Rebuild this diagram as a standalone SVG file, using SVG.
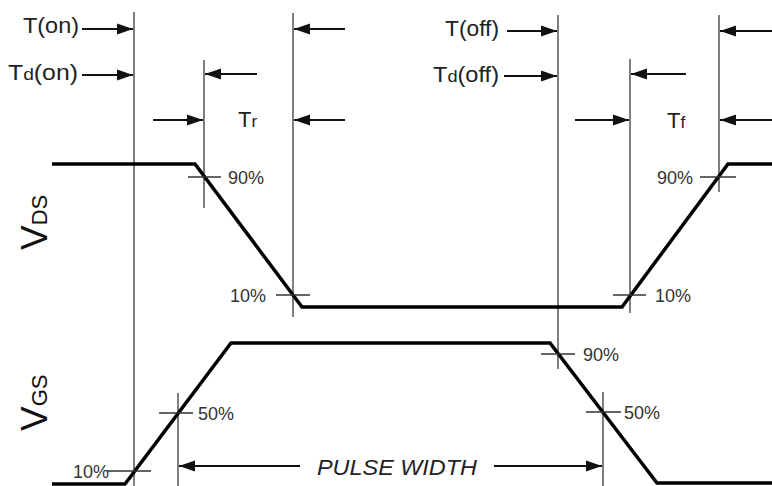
<svg xmlns="http://www.w3.org/2000/svg" width="772" height="486" viewBox="0 0 772 486">
<defs>
<style>
.ref{stroke:#3a3a3a;stroke-width:1.3;fill:none}
.arr{stroke:#111;stroke-width:1.8;fill:none;marker-end:url(#ah)}
.wave{stroke:#000;stroke-width:3.5;fill:none;stroke-linejoin:miter}
.tick{stroke:#333;stroke-width:1.3}
.lbl{font-family:"Liberation Sans",Arial,sans-serif;font-size:22px;fill:#222}
.pct{font-family:"Liberation Sans",Arial,sans-serif;font-size:18px;fill:#333}
.ax{font-family:"Liberation Sans",Arial,sans-serif;fill:#111}
</style>
<marker id="ah" markerUnits="userSpaceOnUse" markerWidth="17" markerHeight="12" refX="16" refY="6" orient="auto">
<path d="M0,0.5 L16,6 L0,11.5 Z" fill="#111"/>
</marker>
</defs>
<rect width="772" height="486" fill="#fff"/>

<g id="reference-lines">
<line class="ref" x1="134" y1="12" x2="134" y2="486"/>
<line class="ref" x1="204" y1="60" x2="204" y2="208"/>
<line class="ref" x1="293" y1="13" x2="293" y2="317"/>
<line class="ref" x1="558" y1="15" x2="558" y2="369"/>
<line class="ref" x1="630" y1="59" x2="630" y2="313"/>
<line class="ref" x1="719" y1="15" x2="719" y2="192"/>
<line class="ref" x1="178" y1="393" x2="178" y2="486"/>
<line class="ref" x1="603" y1="392" x2="603" y2="486"/>
</g>

<g id="connectors">
<line class="arr" x1="82" y1="29" x2="133" y2="29"/>
<line class="arr" x1="82" y1="75" x2="133" y2="75"/>
<line class="arr" x1="257" y1="74" x2="205" y2="74"/>
<line class="arr" x1="153" y1="120" x2="203" y2="120"/>
<line class="arr" x1="345" y1="29" x2="294" y2="29"/>
<line class="arr" x1="345" y1="120" x2="294" y2="120"/>
<line class="arr" x1="507" y1="31" x2="557" y2="31"/>
<line class="arr" x1="504" y1="76" x2="557" y2="76"/>
<line class="arr" x1="686" y1="74" x2="631" y2="74"/>
<line class="arr" x1="575" y1="120" x2="629" y2="120"/>
<line class="arr" x1="772" y1="31" x2="720" y2="31"/>
<line class="arr" x1="772" y1="120" x2="720" y2="120"/>
<line class="arr" x1="300" y1="466" x2="179" y2="466"/>
<line class="arr" x1="494" y1="466" x2="602" y2="466"/>
</g>

<g id="vds-waveform">
<polyline class="wave" points="52,164 195,164 302,307 622,307 728,164 772,164"/>
<line class="tick" x1="188" y1="177" x2="221" y2="177"/>
<line class="tick" x1="276" y1="295" x2="310" y2="295"/>
<line class="tick" x1="613" y1="295" x2="646" y2="295"/>
<line class="tick" x1="700" y1="177" x2="736" y2="177"/>
<text class="pct" x="228" y="183.5">90%</text>
<text class="pct" x="230" y="301.5">10%</text>
<text class="pct" x="655" y="301.5">10%</text>
<text class="pct" x="657" y="183.5">90%</text>
</g>

<g id="vgs-waveform">
<polyline class="wave" points="52,484 125,484 231,343 550,343 657,483 772,483"/>
<line class="tick" x1="107" y1="471" x2="151" y2="471"/>
<line class="tick" x1="159" y1="413" x2="193" y2="413"/>
<line class="tick" x1="541" y1="354" x2="575" y2="354"/>
<line class="tick" x1="586" y1="412" x2="621" y2="412"/>
<text class="pct" x="73" y="477.5">10%</text>
<text class="pct" x="198" y="419.5">50%</text>
<text class="pct" x="583" y="360.5">90%</text>
<text class="pct" x="624" y="418.5">50%</text>
</g>

<g id="timing-labels">
<text class="lbl" x="23" y="33" textLength="56" lengthAdjust="spacingAndGlyphs">T(on)</text>
<text class="lbl" x="8" y="80" textLength="70" lengthAdjust="spacingAndGlyphs">T<tspan font-size="17">d</tspan>(on)</text>
<text class="lbl" x="238" y="127">T<tspan font-size="17">r</tspan></text>
<text class="lbl" x="445" y="36" textLength="54" lengthAdjust="spacingAndGlyphs">T(off)</text>
<text class="lbl" x="433" y="82" textLength="66" lengthAdjust="spacingAndGlyphs">T<tspan font-size="17">d</tspan>(off)</text>
<text class="lbl" x="667" y="128">T<tspan font-size="17">f</tspan></text>
<text class="lbl" x="317" y="475" font-style="italic" textLength="160" lengthAdjust="spacingAndGlyphs">PULSE WIDTH</text>
</g>

<g id="axis-labels">
<text class="ax" transform="translate(47,250) rotate(-90)" font-size="37">V<tspan font-size="22">DS</tspan></text>
<text class="ax" transform="translate(47,431) rotate(-90)" font-size="37">V<tspan font-size="22">GS</tspan></text>
</g>
</svg>
